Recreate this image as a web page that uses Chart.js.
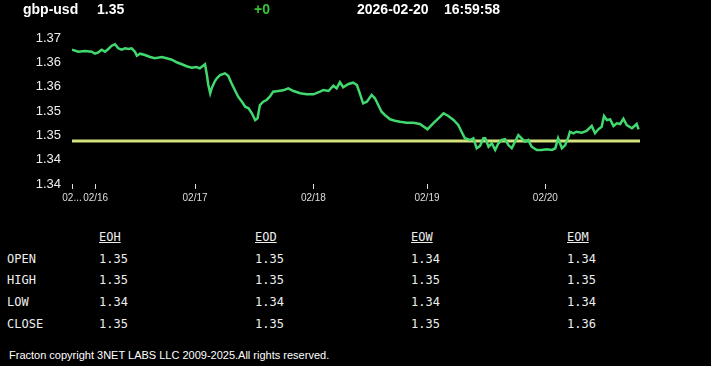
<!DOCTYPE html>
<html>
<head>
<meta charset="utf-8">
<script src="https://cdn.jsdelivr.net/npm/chart.js@4.4.1/dist/chart.umd.min.js"></script>
<style>
  html, body { margin:0; padding:0; background:#000; width:711px; height:366px; overflow:hidden; }
  #wrap { position:relative; width:711px; height:366px; }
  #chart { position:absolute; left:0; top:0; }
  .hd { position:absolute; top:1px; font:bold 14px 'Liberation Sans', Arial, sans-serif; line-height:16px; color:#fff; white-space:pre; }
  .tb { position:absolute; font:12px 'DejaVu Sans Mono', monospace; line-height:14px; color:#eee; white-space:pre; }
  .tb.u { text-decoration:underline; }
  #foot { position:absolute; left:9px; top:349px; font:11px 'Liberation Sans', Arial, sans-serif; line-height:13px; color:#fff; white-space:pre; }
</style>
</head>
<body>
<div id="wrap">
  <canvas id="chart" width="711" height="215"></canvas>
  <div class="hd" style="left:23px">gbp-usd</div>
  <div class="hd" style="left:97px">1.35</div>
  <div class="hd" style="left:254px;color:#35c435">+0</div>
  <div class="hd" style="left:357px">2026-02-20</div>
  <div class="hd" style="left:444px">16:59:58</div>
  <div id="foot">Fracton copyright 3NET LABS LLC 2009-2025.All rights reserved.</div>
</div>
<script>
// ─── Data ────────────────────────────────────────────────────────────────────
// session position (x) and gbp-usd rate
const t = [
  0, 1.33, 2.75, 4.16, 4.86, 5.56, 6.28, 6.97, 7.67, 8.39, 9.09, 9.78, 10.5, 11.2, 11.9, 12.6, 13.3, 13.7, 14.4, 15.4,
  16.5, 17.5, 19.0, 20.0, 21.1, 22.1, 23.2, 24.2, 25.3, 26.3, 27.0, 27.7, 28.1, 28.5, 28.8, 29.2, 29.5, 30.2, 30.6, 31.3,
  32.3, 33.0, 33.7, 34.4, 35.1, 35.9, 36.6, 37.3, 38.0, 38.7, 39.2, 39.7, 40.4, 41.1, 41.8, 42.5, 43.6, 44.6, 45.7, 46.8,
  48.2, 49.6, 51.0, 52.4, 53.1, 54.2, 55.2, 55.9, 56.6, 57.3, 58.4, 59.4, 60.2, 60.8, 61.5, 62.3, 63.3, 64.0, 64.7, 65.4,
  66.1, 67.2, 68.2, 69.3, 70.7, 72.1, 73.5, 75.1, 76.3, 77.8, 78.5, 79.5, 80.6, 81.6, 82.3, 83.0, 84.1, 84.8, 85.5, 86.2,
  86.9, 87.3, 88.0, 88.7, 89.4, 90.1, 90.8, 91.5, 92.2, 92.9, 93.6, 94.3, 95.0, 95.7, 96.4, 97.1, 98.2, 99.2, 100.3, 101.4,
  102.1, 102.7, 103.5, 104.2, 104.9, 105.2, 105.9, 106.6, 107.7, 108.7, 109.8, 110.5, 111.2, 111.9, 112.4, 113.0, 113.7, 114.4, 115.1, 115.8,
  116.5, 117.2, 118.3, 119.3, 119.7
];
const rate = [
  1.36760, 1.36718, 1.36733, 1.36718, 1.36677, 1.36706, 1.36760, 1.36718, 1.36774, 1.36842, 1.36871, 1.36788, 1.36760, 1.36788, 1.36774, 1.36788, 1.36718, 1.36636, 1.36677, 1.36651,
  1.36610, 1.36583, 1.36610, 1.36583, 1.36554, 1.36501, 1.36460, 1.36419, 1.36390, 1.36404, 1.36377, 1.36431, 1.36460, 1.36240, 1.36034, 1.35864, 1.35966, 1.36116, 1.36172, 1.36240,
  1.36275, 1.36225, 1.36069, 1.35932, 1.35794, 1.35691, 1.35588, 1.35555, 1.35453, 1.35315, 1.35350, 1.35623, 1.35691, 1.35726, 1.35794, 1.35897, 1.35911, 1.35925, 1.35966, 1.35911,
  1.35864, 1.35843, 1.35843, 1.35897, 1.35932, 1.35911, 1.36020, 1.35966, 1.36090, 1.35987, 1.36055, 1.36082, 1.36034, 1.35864, 1.35658, 1.35691, 1.35829, 1.35761, 1.35623, 1.35486,
  1.35418, 1.35329, 1.35301, 1.35280, 1.35260, 1.35260, 1.35233, 1.35124, 1.35247, 1.35383, 1.35453, 1.35397, 1.35315, 1.35212, 1.35075, 1.34939, 1.34904, 1.34939, 1.34734, 1.34781,
  1.34939, 1.34939, 1.34766, 1.34836, 1.34699, 1.34836, 1.34904, 1.34919, 1.34801, 1.34734, 1.34869, 1.35007, 1.34939, 1.34869, 1.34904, 1.34766, 1.34699, 1.34699, 1.34713, 1.34699,
  1.34734, 1.34939, 1.34734, 1.34801, 1.34972, 1.35075, 1.35042, 1.35075, 1.35054, 1.35089, 1.35192, 1.35042, 1.35124, 1.35177, 1.35397, 1.35315, 1.35329, 1.35192, 1.35247, 1.35233,
  1.35342, 1.35212, 1.35145, 1.35233, 1.35124
];
const prevClose = 1.34884;
const xMin = 0, xMax = 120;

const xTickPos    = [0, 5, 26, 51, 75, 100];
const xTickLabels = ['02...', '02/16', '02/17', '02/18', '02/19', '02/20'];
const yTickLabels = ['1.34', '1.34', '1.35', '1.35', '1.36', '1.36', '1.37'];

const tableCols = ['EOH', 'EOD', 'EOW', 'EOM'];
const tableRows = ['OPEN', 'HIGH', 'LOW', 'CLOSE'];
const tableVals = [
  ['1.35', '1.35', '1.34', '1.34'],
  ['1.35', '1.35', '1.35', '1.35'],
  ['1.34', '1.34', '1.34', '1.34'],
  ['1.35', '1.35', '1.35', '1.36'],
];

// ─── Table ───────────────────────────────────────────────────────────────────
const wrap = document.getElementById('wrap');
function txt(s, x, y, cls) {
  const d = document.createElement('div');
  d.className = 'tb' + (cls ? ' ' + cls : '');
  d.style.left = x + 'px'; d.style.top = y + 'px';
  d.textContent = s;
  wrap.appendChild(d);
}
const colX = [99, 255, 411, 567];
const rowY = [252, 273, 295, 317];
tableCols.forEach((c, i) => txt(c, colX[i], 230, 'u'));
tableRows.forEach((r, j) => {
  txt(r, 7, rowY[j]);
  tableVals[j].forEach((v, i) => txt(v, colX[i], rowY[j]));
});

// ─── Chart ───────────────────────────────────────────────────────────────────
Chart.defaults.font.family = "'Liberation Sans', Arial, sans-serif";

new Chart(document.getElementById('chart'), {
  type: 'line',
  data: {
    datasets: [
      { data: t.map((x, i) => ({ x, y: rate[i] })), borderColor:'#41d96f', borderWidth:2.5,
        pointRadius:0, tension:0, fill:false },
      { data: [{ x:xMin, y:prevClose }, { x:xMax, y:prevClose }], borderColor:'#d6e27e', borderWidth:3,
        pointRadius:0, fill:false },
    ]
  },
  options: {
    responsive:false, animation:false,
    layout:{ padding:{ left:0, right:71, top:38, bottom:0 } },
    plugins:{ legend:{display:false}, tooltip:{enabled:false} },
    scales:{
      x:{
        type:'linear', min:xMin, max:xMax,
        afterBuildTicks: ax => { ax.ticks = xTickPos.map(v => ({ value:v })); },
        afterFit: ax => { ax.height = 31; },
        grid:{ display:true, drawOnChartArea:false, drawTicks:true, tickLength:5, color:'#ddd', lineWidth:1 },
        border:{ display:false },
        ticks:{ autoSkip:false, maxRotation:0, padding:3, color:'#ddd', font:{size:10},
                callback:(v, i) => xTickLabels[i] }
      },
      y:{
        min:1.34, max:1.37,
        afterBuildTicks: ax => { ax.ticks = yTickLabels.map((_, i) => ({ value: 1.34 + i * 0.005 })); },
        afterFit: ax => { ax.width = 72; },
        grid:{ display:false, drawTicks:false },
        border:{ display:false },
        ticks:{ padding:11, color:'#eee', font:{size:13}, callback:(v, i) => yTickLabels[i] }
      }
    }
  }
});
</script>
</body>
</html>
